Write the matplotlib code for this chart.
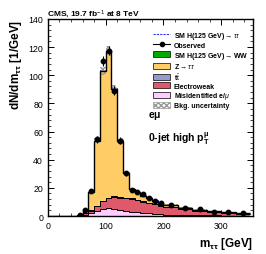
import numpy as np
import matplotlib
matplotlib.use("Agg")
import matplotlib.pyplot as plt
from matplotlib.patches import Patch
from matplotlib.lines import Line2D

plt.rcParams['font.family'] = ['Liberation Sans', 'DejaVu Sans']
plt.rcParams['mathtext.fontset'] = 'custom'
plt.rcParams['mathtext.rm'] = 'Liberation Sans'
plt.rcParams['mathtext.bf'] = 'Liberation Sans:bold'
plt.rcParams['mathtext.it'] = 'Liberation Sans:italic'

# bin edges (GeV)
edges = [0, 10, 20, 30, 40, 50, 60, 70, 80, 90, 100, 110, 120, 130, 140, 150,
         160, 170, 180, 190, 200, 225, 250, 275, 300, 325, 350]

# stacked backgrounds, dN/dm per bin
fakes = [0, 0, 0, 0, 0, 0.3, 1.0, 2.0, 3.5, 5.0, 5.5, 5.0, 4.5, 3.5, 3.0, 2.5,
         2.0, 1.8, 1.5, 1.3, 1.0, 0.7, 0.5, 0.4, 0.3, 0.2]
ewk = [0, 0, 0, 0, 0, 0.1, 0.8, 1.8, 3.3, 5.6, 7.1, 8.6, 8.6, 9.1, 9.1, 8.6,
       8.1, 7.4, 6.7, 5.9, 5.2, 4.1, 3.3, 2.4, 1.7, 1.3]
ttbar = [0, 0, 0, 0, 0, 0, 0.1, 0.2, 0.3, 0.4, 0.4, 0.4, 0.4, 0.4, 0.4, 0.4,
         0.4, 0.3, 0.3, 0.3, 0.3, 0.2, 0.2, 0.2, 0.1, 0.1]
total = [0, 0, 0, 0, 0, 0.5, 4.0, 17.0, 53.5, 103.0, 117.0, 90.0, 53.5, 30.5,
         19.0, 17.0, 14.5, 12.5, 11.0, 9.5, 8.0, 6.0, 4.5, 3.3, 2.5, 1.8]
hww = [0, 0, 0, 0, 0, 0, 0, 0, 0.1, 0.1, 0.1, 0.1, 0.1, 0.1, 0.1, 0.1,
       0.1, 0.1, 0.1, 0.1, 0.1, 0.1, 0.0, 0.0, 0.0, 0.0]
htt = [0, 0, 0, 0, 0, 0, 0, 0.1, 0.2, 0.4, 0.6, 0.8, 0.8, 0.6, 0.4, 0.3,
       0.2, 0.1, 0.1, 0.1, 0.0, 0.0, 0.0, 0.0, 0.0, 0.0]
bkg_unc = 0.03

# observed data
obs_x = [55, 65, 75, 85, 95, 105, 115, 125, 135, 145, 155, 165, 175, 185, 195,
         212.5, 237.5, 262.5, 287.5, 312.5, 337.5]
obs_y = [0.8, 4.5, 17.7, 54.5, 110.0, 117.5, 89.0, 53.5, 30.5, 18.5, 17.3,
         15.4, 12.6, 10.5, 9.3, 7.9, 6.0, 4.7, 3.0, 2.5, 2.0]
obs_w = [10] * 15 + [25] * 6

edges = np.array(edges, float)
fakes = np.array(fakes)
ewk = np.array(ewk)
ttbar = np.array(ttbar)
total = np.array(total)
hww = np.array(hww)
htt = np.array(htt)

c1 = fakes
c2 = c1 + ewk
c3 = c2 + ttbar
c4 = total
c5 = c4 + hww

fig = plt.figure(figsize=(2.66, 2.55), dpi=100)
ax = fig.add_axes([0.18, 0.149, 0.771, 0.773])

ax.stairs(c5 + htt, edges, baseline=None, color='#3333FF', lw=0.6,
          ls=(0, (2, 1)), zorder=1.5)
ax.stairs(c5, edges, baseline=c4, fill=True, color='#00aa00', lw=0, zorder=2)
ax.stairs(c4, edges, baseline=c3, fill=True, color='#FFCC66', lw=0, zorder=2)
ax.stairs(c3, edges, baseline=c2, fill=True, color='#9999CC', lw=0, zorder=2)
ax.stairs(c2, edges, baseline=c1, fill=True, color='#DE5A6A', lw=0, zorder=2)
ax.stairs(c1, edges, baseline=0, fill=True, color='#FFCCFF', lw=0, zorder=2)
for c in (c1, c2, c3):
    ax.stairs(c, edges, baseline=None, color='black', lw=0.7, zorder=2.2)
ax.stairs(c4 * (1 + bkg_unc), edges, baseline=c4 * (1 - bkg_unc), fill=True,
          facecolor='none', edgecolor='#999999', hatch='xxxxxx', lw=0, zorder=2.3)
ax.stairs(c4, edges, baseline=None, color='black', lw=1.0, zorder=2.4)

obs_x = np.array(obs_x)
obs_y = np.array(obs_y)
obs_w = np.array(obs_w)
yerr = np.sqrt(obs_y * obs_w) / obs_w
ax.errorbar(obs_x, obs_y, yerr=yerr, fmt='o', color='black', ms=3.2,
            elinewidth=0.8, capsize=0, zorder=3)

ax.set_xlim(0, 355)
ax.set_ylim(0, 140)
ax.set_xticks([0, 100, 200, 300])
ax.set_yticks([0, 20, 40, 60, 80, 100, 120, 140])
ax.set_xticks(np.arange(0, 355, 20), minor=True)
ax.set_yticks(np.arange(0, 141, 4), minor=True)
ax.tick_params(which='both', direction='in', top=True, right=True, labelsize=6.3)
ax.tick_params(which='major', length=4, width=0.7)
ax.tick_params(which='minor', length=2, width=0.5)
for s in ax.spines.values():
    s.set_linewidth(1.0)
    s.set_zorder(4)

ax.set_ylabel(r'dN/dm$_{\mathbf{\tau\tau}}$ [1/GeV]', fontsize=8.5,
              fontweight='bold', loc='top', labelpad=3)
ax.set_xlabel(r'm$_{\mathbf{\tau\tau}}$ [GeV]', fontsize=8.5,
              fontweight='bold', loc='right', labelpad=4)

fig.text(0.178, 0.935, r'CMS, 19.7 fb$^{-1}$ at 8 TeV', fontsize=6,
         fontweight='bold')

ax.text(0.49, 0.5, r'e$\mathbf{\mu}$', transform=ax.transAxes, fontsize=7.5,
        fontweight='bold')
ax.text(0.49, 0.38, r'0-jet high p$_{\mathbf{T}}^{\mathbf{\mu}}$',
        transform=ax.transAxes, fontsize=7.5, fontweight='bold')

handles = [
    Line2D([], [], color='#3333FF', lw=0.8, ls=(0, (2, 1))),
    Line2D([], [], color='black', marker='o', ms=3, lw=0.8),
    Patch(facecolor='#00aa00', edgecolor='black', lw=0.5),
    Patch(facecolor='#FFCC66', edgecolor='black', lw=0.5),
    Patch(facecolor='#9999CC', edgecolor='black', lw=0.5),
    Patch(facecolor='#DE5A6A', edgecolor='black', lw=0.5),
    Patch(facecolor='#FFCCFF', edgecolor='black', lw=0.5),
    Patch(facecolor='white', edgecolor='#999999', hatch='xxxxxx', lw=0.5),
]
labels = [r'SM H(125 GeV)$\rightarrow\tau\tau$', 'Observed',
          r'SM H(125 GeV)$\rightarrow$WW', r'Z$\rightarrow\tau\tau$',
          r't$\bar{\mathrm{t}}$', 'Electroweak', r'Misidentified e/$\mu$',
          'Bkg. uncertainty']
leg = ax.legend(handles, labels, loc='upper right', bbox_to_anchor=(1.0, 0.97),
                fontsize=5, frameon=False, handlelength=2.5, handleheight=0.85,
                labelspacing=0.12, borderpad=0.2, handletextpad=0.5)
for t in leg.get_texts():
    t.set_fontweight('bold')

fig.savefig('out.png', dpi=100)
